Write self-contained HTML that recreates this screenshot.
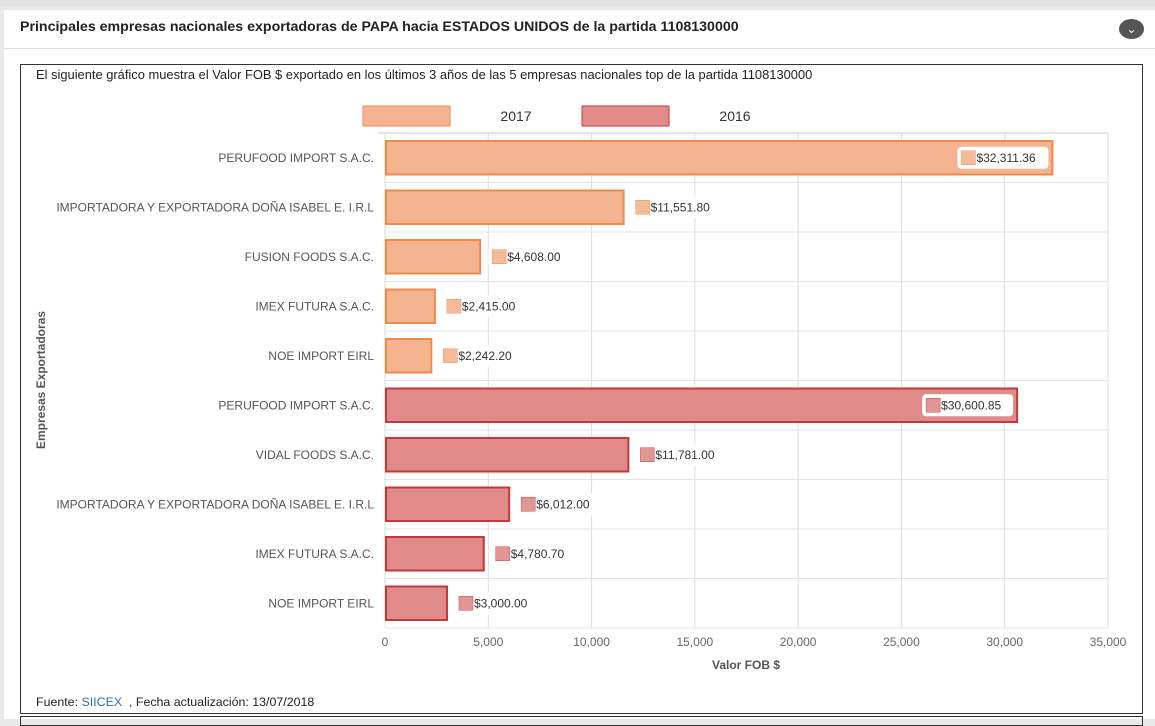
<!DOCTYPE html>
<html><head><meta charset="utf-8"><style>
html,body{margin:0;padding:0;width:1155px;height:719px;overflow:hidden;background:#e9e9e9;font-family:"Liberation Sans",sans-serif}
#panel{position:absolute;left:4px;top:10px;width:1151px;height:709px;background:#fff}
#title{position:absolute;left:20px;top:19px;font-size:14.2px;font-weight:bold;color:#222}
#hr{position:absolute;left:4px;top:48px;width:1151px;height:1px;background:#ddd}
#btn{position:absolute;left:1119px;top:19px;width:25px;height:20px;border-radius:50%;background:#555;color:#fff;text-align:center;font-size:12px;line-height:20px}
#frame{position:absolute;left:20px;top:64px;width:1123px;height:650px;border:1px solid #333;box-sizing:border-box}
#frame2{position:absolute;left:20px;top:716px;width:1123px;height:10px;border:1px solid #333;box-sizing:border-box}
#desc{position:absolute;left:36px;top:67px;font-size:12.9px;color:#222}
#foot{position:absolute;left:36px;top:695px;font-size:12.4px;color:#222}
#foot span{color:#2a6ebb}
svg{position:absolute;left:0;top:0}
</style></head><body>
<div id="panel"></div>
<div style="position:absolute;left:0;top:0;width:1155px;height:6px;background:#e3e3e3"></div>
<div id="title">Principales empresas nacionales exportadoras de PAPA hacia ESTADOS UNIDOS de la partida 1108130000</div>
<div id="btn">&#8964;</div>
<div id="hr"></div>
<div id="frame"></div>
<div id="frame2"></div>
<div id="desc">El siguiente gráfico muestra el Valor FOB $ exportado en los últimos 3 años de las 5 empresas nacionales top de la partida 1108130000</div>
<div id="foot">Fuente: <span>SIICEX</span> &nbsp;, Fecha actualización: 13/07/2018</div>
<svg id="chart" width="1155" height="719"></svg>
<script>
const categories=["PERUFOOD IMPORT S.A.C.","IMPORTADORA Y EXPORTADORA DOÑA ISABEL E. I.R.L","FUSION FOODS S.A.C.","IMEX FUTURA S.A.C.","NOE IMPORT EIRL","PERUFOOD IMPORT S.A.C.","VIDAL FOODS S.A.C.","IMPORTADORA Y EXPORTADORA DOÑA ISABEL E. I.R.L","IMEX FUTURA S.A.C.","NOE IMPORT EIRL"];
const values=[32311.36,11551.80,4608.00,2415.00,2242.20,30600.85,11781.00,6012.00,4780.70,3000.00];
const series=["2017","2017","2017","2017","2017","2016","2016","2016","2016","2016"];
const xTicks=[0,5000,10000,15000,20000,25000,30000,35000];
const legendLabels=["2017","2016"];
const NS="http://www.w3.org/2000/svg";
const svg=document.getElementById('chart');
const X0=385,X1=1108,Y0=133,Y1=628,XMAX=35000;
const sx=v=>X0+(v/XMAX)*(X1-X0);
const rowH=(Y1-Y0)/categories.length;
const sy=i=>Y0+i*rowH;
const fill={"2017":"#f4b48f","2016":"#e08a89"},stroke={"2017":"#ee8a4e","2016":"#c0393d"};
function el(t,a,txt){const e=document.createElementNS(NS,t);for(const k in a)e.setAttribute(k,a[k]);if(txt!=null)e.textContent=txt;svg.appendChild(e);return e;}
const fmt=v=>"$"+v.toLocaleString("en-US",{minimumFractionDigits:2,maximumFractionDigits:2});
xTicks.forEach(t=>{
 const g=el('line',{x1:sx(t),x2:sx(t),y1:Y0,y2:Y1,stroke:'#ddd'});
 
 
 const l=el('text',{x:sx(t),y:Y1+18,'text-anchor':'middle','font-size':12,fill:'#666'},t.toLocaleString('en-US'));
 
 
});
for(let i=0;i<=categories.length;i++){
 const g=el('line',{x1:X0,x2:X1,y1:sy(i),y2:sy(i),stroke:'#e3e3e3'});
 
 
}
el('line',{x1:X0-8,x2:X1,y1:Y0,y2:Y0,stroke:'#ccc'});
categories.forEach((c,i)=>{
 const yc=sy(i)+rowH/2;
 const lab=el('text',{x:374,y:yc+4,'text-anchor':'end','font-size':12,fill:'#555'},c);
 
 
 const s=series[i],w=sx(values[i])-X0;
 const b=el('rect',{x:X0+1,y:sy(i)+8,width:w-1,height:rowH-16,fill:fill[s],stroke:stroke[s],'stroke-width':2});
 
 
 const txt=fmt(values[i]);
 const tw=txt.length*6.7+24;
 let lx=sx(values[i])+8;
 if(lx+tw>X1-5){lx=sx(values[i])-tw-4;}
 const bg=el('rect',{x:lx,y:yc-11,width:tw,height:22,rx:4,fill:'#fff'});
 
 
 el('rect',{x:lx+4,y:yc-7,width:14,height:14,fill:fill[s],stroke:stroke[s],'stroke-width':0.5,opacity:0.9});
 const v=el('text',{x:lx+19,y:yc+4,'font-size':12,fill:'#333'},txt);
 
 
});
legendLabels.forEach((s,i)=>{
 const lx=363+i*219;
 const r=el('rect',{x:lx,y:106,width:87,height:20,fill:fill[s],stroke:stroke[s]});
 
 
 const t=el('text',{x:lx+153,y:121,'text-anchor':'middle','font-size':14,fill:'#333'},s);
 
 
});
const xt=el('text',{x:746,y:669,'text-anchor':'middle','font-size':12,'font-weight':'bold',fill:'#555'},'Valor FOB $');


const yt=el('text',{x:45,y:380,'text-anchor':'middle','font-size':12,'font-weight':'bold',fill:'#555',transform:'rotate(-90 45 380)'},'Empresas Exportadoras');


</script>
</body></html>
